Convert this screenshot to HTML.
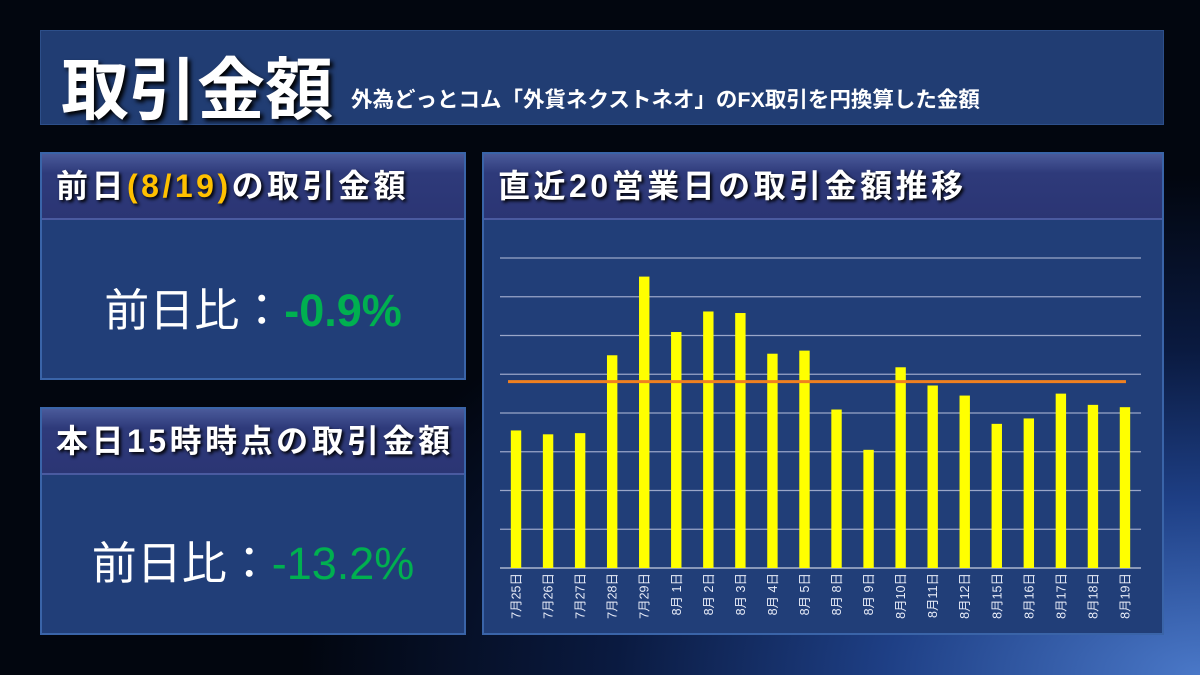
<!DOCTYPE html>
<html><head><meta charset="utf-8">
<style>
*{margin:0;padding:0;box-sizing:border-box}
body{width:1200px;height:675px;overflow:hidden;font-family:"Liberation Sans","Noto Sans CJK JP",sans-serif;
background:radial-gradient(ellipse 900px 500px at 1200px 675px,#4a78c8 0%,#1e3f85 35%,#0a1a40 65%,#02060f 100%);position:relative;color:#fff}
.box{position:absolute;background:#213e78;border:2px solid #3a64a8}
.hdr{position:absolute;left:0;right:0;top:0;height:66px;background:linear-gradient(#4a5a9a,#2e3a7a 30%,#2b3574);border-bottom:2px solid #4a5aa0;font-weight:bold;font-size:32px;letter-spacing:3.5px;padding-left:14px;line-height:64px;text-shadow:2px 2px 3px #000;white-space:nowrap}
.big{position:absolute;left:0;right:0;text-align:center;font-size:45px;white-space:nowrap}
.grn{color:#00b050;font-weight:bold}
</style></head><body>
<div class="box" style="left:40px;top:30px;width:1124px;height:95px;background:#213d73;border:1px solid #2d4f8a">
 <span style="position:absolute;left:20px;top:4px;font-size:68px;font-weight:bold;text-shadow:3px 3px 4px #000">取引金額</span>
 <span style="position:absolute;left:310px;top:52px;font-size:21.5px;font-weight:bold">外為どっとコム「外貨ネクストネオ」のFX取引を円換算した金額</span>
</div>

<div class="box" style="left:40px;top:152px;width:426px;height:228px">
 <div class="hdr">前日<span style="color:#ffc000">(8/19)</span>の取引金額</div>
 <div class="big" style="top:120px">前日比：<span class="grn">-0.9%</span></div>
</div>

<div class="box" style="left:40px;top:407px;width:426px;height:228px">
 <div class="hdr">本日15時時点の取引金額</div>
 <div class="big" style="top:118px;font-size:45px">前日比：<span class="grn" style="font-weight:normal">-13.2%</span></div>
</div>

<div class="box" style="left:482px;top:152px;width:682px;height:483px">
 <div class="hdr">直近20営業日の取引金額推移</div>
</div>
<svg id="chart" width="1200" height="675" style="position:absolute;left:0;top:0"></svg>
<script>
const categories=["7月25日","7月26日","7月27日","7月28日","7月29日","8月 1日","8月 2日","8月 3日","8月 4日","8月 5日","8月 8日","8月 9日","8月10日","8月11日","8月12日","8月15日","8月16日","8月17日","8月18日","8月19日"];
const values=[3.55,3.45,3.48,5.49,7.52,6.09,6.62,6.58,5.53,5.61,4.09,3.05,5.18,4.71,4.45,3.72,3.86,4.50,4.21,4.15];
const averageValue=[4.81];
const gridTicks=[0,1,2,3,4,5,6,7,8];
const NS="http://www.w3.org/2000/svg";
const svg=document.getElementById('chart');
const x0=500,x1=1141,yBase=568,yTop=258,yMax=8;
const step=(x1-x0)/categories.length;
const xC=i=>x0+step*(i+0.5);
const yS=v=>yBase-(v/yMax)*(yBase-yTop);
function mk(t,a){const e=document.createElementNS(NS,t);for(const k in a)e.setAttribute(k,a[k]);svg.appendChild(e);return e;}
gridTicks.forEach(t=>{
 const l=mk('line',{x1:x0,x2:x1,y1:yS(t),y2:yS(t),stroke:t===0?'#c8cde0':'#9aa6c8','stroke-width':1.2});
 
 
});
values.forEach((v,i)=>{
 const r=mk('rect',{x:xC(i)-5.2,y:yS(v),width:10.4,height:yBase-yS(v),fill:'#ffff00'});
 
 
});
const av=mk('line',{x1:xC(0)-8,x2:xC(categories.length-1)+1,y1:yS(averageValue[0]),y2:yS(averageValue[0]),stroke:'#f08020','stroke-width':3});


categories.forEach((c,i)=>{
 const t=mk('text',{x:0,y:0,fill:'#e8ecf8','font-size':12.5,'text-anchor':'end',transform:`translate(${xC(i)+4.5},573) rotate(-90)`,'font-family':'"Liberation Sans","Noto Sans CJK JP",sans-serif'});
 t.textContent=c;
 
 
});
</script>
</body></html>
